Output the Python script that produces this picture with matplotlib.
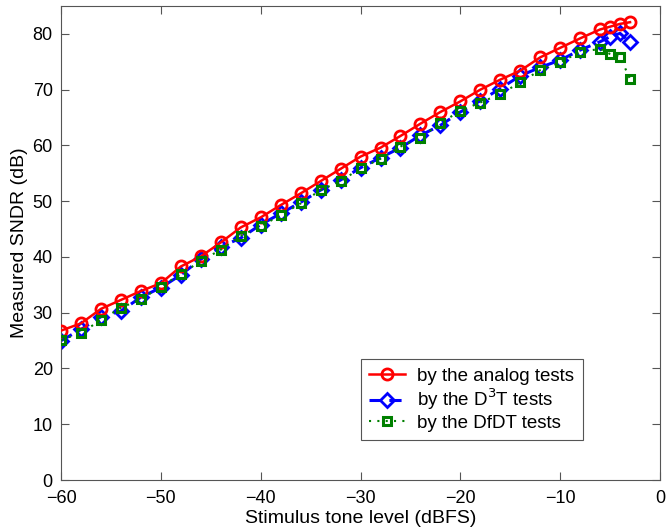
import matplotlib
matplotlib.use("Agg")
import matplotlib.pyplot as plt

plt.rcParams['font.family'] = ['Liberation Sans', 'DejaVu Sans']
plt.rcParams['axes.unicode_minus'] = True

x = [-60, -58, -56, -54, -52, -50, -48, -46, -44, -42, -40, -38, -36, -34, -32,
     -30, -28, -26, -24, -22, -20, -18, -16, -14, -12, -10, -8, -6, -5, -4, -3]
analog = [26.8, 28.1, 30.7, 32.3, 33.9, 35.3, 38.3, 40.1, 42.6, 45.3, 47.1, 49.3,
          51.4, 53.6, 55.8, 58.0, 59.6, 61.7, 63.9, 66.0, 67.9, 70.0, 71.8, 73.4,
          75.8, 77.5, 79.2, 80.8, 81.3, 81.8, 82.1]
d3t = [25.0, 27.0, 29.3, 30.3, 32.8, 34.5, 36.8, 39.6, 41.8, 43.4, 45.8, 47.8,
       49.8, 52.0, 53.8, 56.0, 57.8, 59.6, 61.8, 63.6, 66.0, 68.0, 70.2, 72.5,
       74.0, 75.3, 77.1, 78.6, 79.5, 80.1, 78.5]
dfdt = [25.1, 26.4, 28.7, 30.9, 32.4, 34.7, 36.9, 39.3, 41.3, 43.8, 45.5, 47.5,
        49.6, 52.0, 53.6, 55.9, 57.6, 59.8, 61.4, 64.0, 66.2, 67.7, 69.2, 71.3,
        73.5, 74.9, 76.8, 77.3, 76.4, 75.9, 71.9]

fig = plt.figure(figsize=(6.68, 5.29), dpi=100)
ax = fig.add_axes([0.0915, 0.0926, 0.8965, 0.896])

ax.plot(x, analog, color='#ff0000', lw=1.8, marker='o', ms=8, mfc='none',
        mew=2.0, label='by the analog tests', zorder=3)
ax.plot(x, d3t, color='#0000ff', lw=2.2, ls=(0, (4, 2.5)), marker='D', ms=7,
        mfc='none', mew=2.0, label='by the D$^3$T tests', zorder=2)
ax.plot(x, dfdt, color='#008000', lw=1.5, ls=(0, (1, 3)), marker='s', ms=6,
        mfc='none', mew=2.2, label='by the DfDT tests', zorder=4)

ax.set_xlim(-60, 0)
ax.set_ylim(0, 85)
ax.set_xticks(range(-60, 1, 10))
ax.set_yticks(range(0, 81, 10))
ax.tick_params(direction='in', top=True, right=True, labelsize=13, length=6,
               color='#555555')
ax.tick_params(axis='x', pad=7)
ax.tick_params(axis='y', pad=6)
for s in ax.spines.values():
    s.set_color('#555555')
ax.set_xlabel('Stimulus tone level (dBFS)', fontsize=14, labelpad=2)
ax.set_ylabel('Measured SNDR (dB)', fontsize=14, labelpad=3)

leg = ax.legend(loc='lower right', bbox_to_anchor=(0.871, 0.084), fontsize=13.5,
                fancybox=False, edgecolor='#555555', framealpha=1,
                handlelength=1.9, borderpad=0.45, labelspacing=0.12,
                handletextpad=0.65, borderaxespad=0)
leg.get_frame().set_linewidth(0.8)

fig.savefig('out.png', dpi=100)
